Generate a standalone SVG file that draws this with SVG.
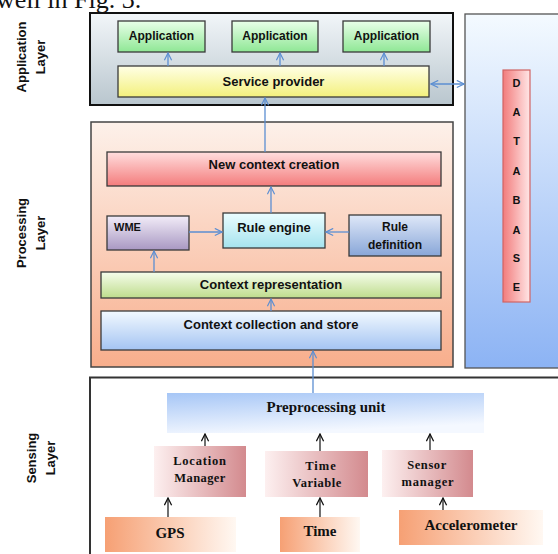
<svg xmlns="http://www.w3.org/2000/svg" width="558" height="554" viewBox="0 0 558 554">
<defs>
<linearGradient id="gAppLayer" x1="0" y1="0" x2="0" y2="1"><stop offset="0" stop-color="#f2f6f9"/><stop offset="1" stop-color="#b9c6ce"/></linearGradient>
<linearGradient id="gApp" x1="0" y1="0" x2="0" y2="1"><stop offset="0" stop-color="#e9ffe9"/><stop offset="1" stop-color="#8fe795"/></linearGradient>
<linearGradient id="gSvc" x1="0" y1="0" x2="0" y2="1"><stop offset="0" stop-color="#ffffe6"/><stop offset="1" stop-color="#f3f07c"/></linearGradient>
<linearGradient id="gDbOuter" x1="0" y1="0" x2="0" y2="1"><stop offset="0" stop-color="#f4faff"/><stop offset="1" stop-color="#8cb3f4"/></linearGradient>
<linearGradient id="gDb" x1="0" y1="0" x2="1" y2="0"><stop offset="0" stop-color="#f27c7c"/><stop offset="1" stop-color="#ffe6e6"/></linearGradient>
<linearGradient id="gProc" x1="0" y1="0" x2="0" y2="1"><stop offset="0" stop-color="#fdf1ea"/><stop offset="1" stop-color="#f8ae8c"/></linearGradient>
<linearGradient id="gNew" x1="0" y1="0" x2="0" y2="1"><stop offset="0" stop-color="#ffdede"/><stop offset="1" stop-color="#f47c7c"/></linearGradient>
<linearGradient id="gWme" x1="0" y1="0" x2="0" y2="1"><stop offset="0" stop-color="#f2ecf8"/><stop offset="1" stop-color="#a898c2"/></linearGradient>
<linearGradient id="gRule" x1="0" y1="0" x2="0" y2="1"><stop offset="0" stop-color="#ebfdff"/><stop offset="1" stop-color="#a5e3ee"/></linearGradient>
<linearGradient id="gRuleDef" x1="0" y1="0" x2="0" y2="1"><stop offset="0" stop-color="#dfe8f8"/><stop offset="1" stop-color="#88a6d8"/></linearGradient>
<linearGradient id="gRep" x1="0" y1="0" x2="0" y2="1"><stop offset="0" stop-color="#f6fdec"/><stop offset="1" stop-color="#bedc8c"/></linearGradient>
<linearGradient id="gColl" x1="0" y1="0" x2="0" y2="1"><stop offset="0" stop-color="#f2f9ff"/><stop offset="1" stop-color="#a4c4f2"/></linearGradient>
<linearGradient id="gPre" x1="0" y1="0" x2="0.35" y2="1"><stop offset="0" stop-color="#a6c6f6"/><stop offset="1" stop-color="#f4f8ff"/></linearGradient>
<linearGradient id="gMgr" x1="0" y1="0" x2="1" y2="0"><stop offset="0" stop-color="#fdf0f0"/><stop offset="1" stop-color="#d38a8e"/></linearGradient>
<linearGradient id="gSrc" x1="0" y1="0" x2="1" y2="0"><stop offset="0" stop-color="#f6a074"/><stop offset="1" stop-color="#fff8f2"/></linearGradient>
<marker id="ab" viewBox="0 0 10 10" refX="9" refY="5" markerWidth="9" markerHeight="9" orient="auto-start-reverse" markerUnits="userSpaceOnUse"><path d="M1,1 L9,5 L1,9" fill="none" stroke="#5b8ed2" stroke-width="1.3"/></marker>
<marker id="ak" viewBox="0 0 10 10" refX="9" refY="5" markerWidth="9" markerHeight="9" orient="auto" markerUnits="userSpaceOnUse"><path d="M1,1 L9,5 L1,9" fill="none" stroke="#111" stroke-width="1.4"/></marker>
</defs>
<style>
.box{stroke:#3a3a3a;stroke-width:1.3}
.t{font-family:"Liberation Sans",Arial,sans-serif;font-weight:bold;fill:#111;text-anchor:middle}
.s{font-family:"Liberation Serif","Times New Roman",serif;font-weight:bold;fill:#111;text-anchor:middle}
.lbl{font-family:"Liberation Sans",Arial,sans-serif;font-weight:bold;font-size:13px;fill:#111;text-anchor:middle}
.cb{stroke:#5b8ed2;stroke-width:1.3;fill:none}
.ck{stroke:#111;stroke-width:1.2;fill:none}
</style>
<text x="-4" y="8" style="font-family:'Liberation Serif','Times New Roman',serif;font-size:26px;fill:#111">well in Fig. 3.</text>
<g id="side-labels">
<text class="lbl" transform="translate(26,57) rotate(-90)">Application</text>
<text class="lbl" transform="translate(45,57) rotate(-90)">Layer</text>
<text class="lbl" transform="translate(26,233) rotate(-90)">Processing</text>
<text class="lbl" transform="translate(45,233) rotate(-90)">Layer</text>
<text class="lbl" transform="translate(36,458) rotate(-90)">Sensing</text>
<text class="lbl" transform="translate(55,458) rotate(-90)">Layer</text>
</g>
<g id="database-layer">
<rect x="465" y="14" width="110" height="354" fill="url(#gDbOuter)" stroke="#555" stroke-width="1.3"/>
</g>
<g id="database">
<rect x="503" y="70" width="27" height="232" fill="url(#gDb)" stroke="#d06464" stroke-width="1.2"/>
<g class="t" style="font-size:11px">
<text x="516.5" y="87">D</text><text x="516.5" y="116">A</text><text x="516.5" y="145">T</text><text x="516.5" y="175">A</text><text x="516.5" y="204">B</text><text x="516.5" y="234">A</text><text x="516.5" y="262">S</text><text x="516.5" y="291">E</text>
</g>
</g>
<g id="application-layer">
<rect x="90" y="13" width="363" height="92" fill="url(#gAppLayer)" stroke="#111" stroke-width="2"/>
</g>
<g id="app1"><rect class="box" x="118" y="21" width="87" height="31" fill="url(#gApp)"/><text class="t" x="161.5" y="40" style="font-size:12px">Application</text></g>
<g id="app2"><rect class="box" x="232" y="21" width="86" height="31" fill="url(#gApp)"/><text class="t" x="275" y="40" style="font-size:12px">Application</text></g>
<g id="app3"><rect class="box" x="343" y="21" width="87" height="31" fill="url(#gApp)"/><text class="t" x="386.5" y="40" style="font-size:12px">Application</text></g>
<g id="service-provider"><rect class="box" x="118" y="66" width="311" height="31" fill="url(#gSvc)"/><text class="t" x="273.5" y="86" style="font-size:13px">Service provider</text></g>
<g id="processing-layer">
<rect x="91" y="122" width="362" height="245" fill="url(#gProc)" stroke="#444" stroke-width="1.5"/>
</g>
<g id="new-context"><rect class="box" x="107" y="152" width="334" height="34" fill="url(#gNew)"/><text class="t" x="274" y="169" style="font-size:13px">New context creation</text></g>
<g id="wme"><rect class="box" x="107" y="216" width="82" height="34" fill="url(#gWme)"/><text class="t" x="114" y="231" style="font-size:11px;text-anchor:start">WME</text></g>
<g id="rule-engine"><rect class="box" x="223" y="213" width="102" height="35" fill="url(#gRule)"/><text class="t" x="274" y="232" style="font-size:13px">Rule engine</text></g>
<g id="rule-definition"><rect class="box" x="349" y="215" width="92" height="41" fill="url(#gRuleDef)"/><text class="t" x="395" y="231" style="font-size:12px">Rule</text><text class="t" x="395" y="249" style="font-size:12px">definition</text></g>
<g id="context-representation"><rect class="box" x="101" y="272" width="340" height="26" fill="url(#gRep)"/><text class="t" x="271" y="289" style="font-size:13px">Context representation</text></g>
<g id="context-collection"><rect class="box" x="101" y="311" width="340" height="39" fill="url(#gColl)"/><text class="t" x="271" y="329" style="font-size:13px">Context collection and store</text></g>
<g id="sensing-layer">
<rect x="90" y="377.5" width="490" height="200" fill="#fff" stroke="#333" stroke-width="2"/>
</g>
<g id="preprocessing-unit"><rect x="167" y="393" width="317" height="40" fill="url(#gPre)"/><text class="s" x="326" y="412" style="font-size:15px">Preprocessing unit</text></g>
<g id="location-manager"><rect x="154" y="446" width="92" height="51" fill="url(#gMgr)"/><text class="s" x="200" y="465" style="font-size:12.5px;letter-spacing:0.8px">Location</text><text class="s" x="200" y="482" style="font-size:12.5px;letter-spacing:0.4px">Manager</text></g>
<g id="time-variable"><rect x="265" y="451" width="103" height="46" fill="url(#gMgr)"/><text class="s" x="321" y="470" style="font-size:12.5px;letter-spacing:1px">Time</text><text class="s" x="317" y="487" style="font-size:12.5px;letter-spacing:0.5px">Variable</text></g>
<g id="sensor-manager"><rect x="382" y="450" width="91" height="47" fill="url(#gMgr)"/><text class="s" x="427" y="469" style="font-size:12.5px;letter-spacing:0.6px">Sensor</text><text class="s" x="428" y="486" style="font-size:12.5px;letter-spacing:0.8px">manager</text></g>
<g id="gps"><rect x="105" y="517" width="131" height="35" fill="url(#gSrc)"/><text class="s" x="170" y="538" style="font-size:15px">GPS</text></g>
<g id="time"><rect x="280" y="517" width="80" height="35" fill="url(#gSrc)"/><text class="s" x="320" y="536" style="font-size:15px">Time</text></g>
<g id="accelerometer"><rect x="399" y="510" width="144" height="35" fill="url(#gSrc)"/><text class="s" x="471" y="530" style="font-size:15px">Accelerometer</text></g>
<g id="connectors">
<line class="cb" x1="168" y1="66" x2="168" y2="53" marker-end="url(#ab)"/>
<line class="cb" x1="280" y1="66" x2="280" y2="53" marker-end="url(#ab)"/>
<line class="cb" x1="384" y1="66" x2="384" y2="53" marker-end="url(#ab)"/>
<line class="cb" x1="431" y1="84" x2="464" y2="84" marker-start="url(#ab)" marker-end="url(#ab)"/>
<line class="cb" x1="265" y1="152" x2="265" y2="98" marker-end="url(#ab)"/>
<line class="cb" x1="271" y1="213" x2="271" y2="187" marker-end="url(#ab)"/>
<line class="cb" x1="189" y1="232" x2="222" y2="232" marker-end="url(#ab)"/>
<line class="cb" x1="349" y1="232" x2="326" y2="232" marker-end="url(#ab)"/>
<line class="cb" x1="154" y1="272" x2="154" y2="251" marker-end="url(#ab)"/>
<line class="cb" x1="271" y1="311" x2="271" y2="299" marker-end="url(#ab)"/>
<line class="cb" x1="313" y1="393" x2="313" y2="351" marker-end="url(#ab)"/>
<line class="ck" x1="205" y1="446" x2="205" y2="434" marker-end="url(#ak)"/>
<line class="ck" x1="320" y1="451" x2="320" y2="434" marker-end="url(#ak)"/>
<line class="ck" x1="430" y1="450" x2="430" y2="434" marker-end="url(#ak)"/>
<line class="ck" x1="168" y1="517" x2="168" y2="498" marker-end="url(#ak)"/>
<line class="ck" x1="320" y1="517" x2="320" y2="498" marker-end="url(#ak)"/>
<line class="ck" x1="443" y1="510" x2="443" y2="498" marker-end="url(#ak)"/>
</g>
</svg>
